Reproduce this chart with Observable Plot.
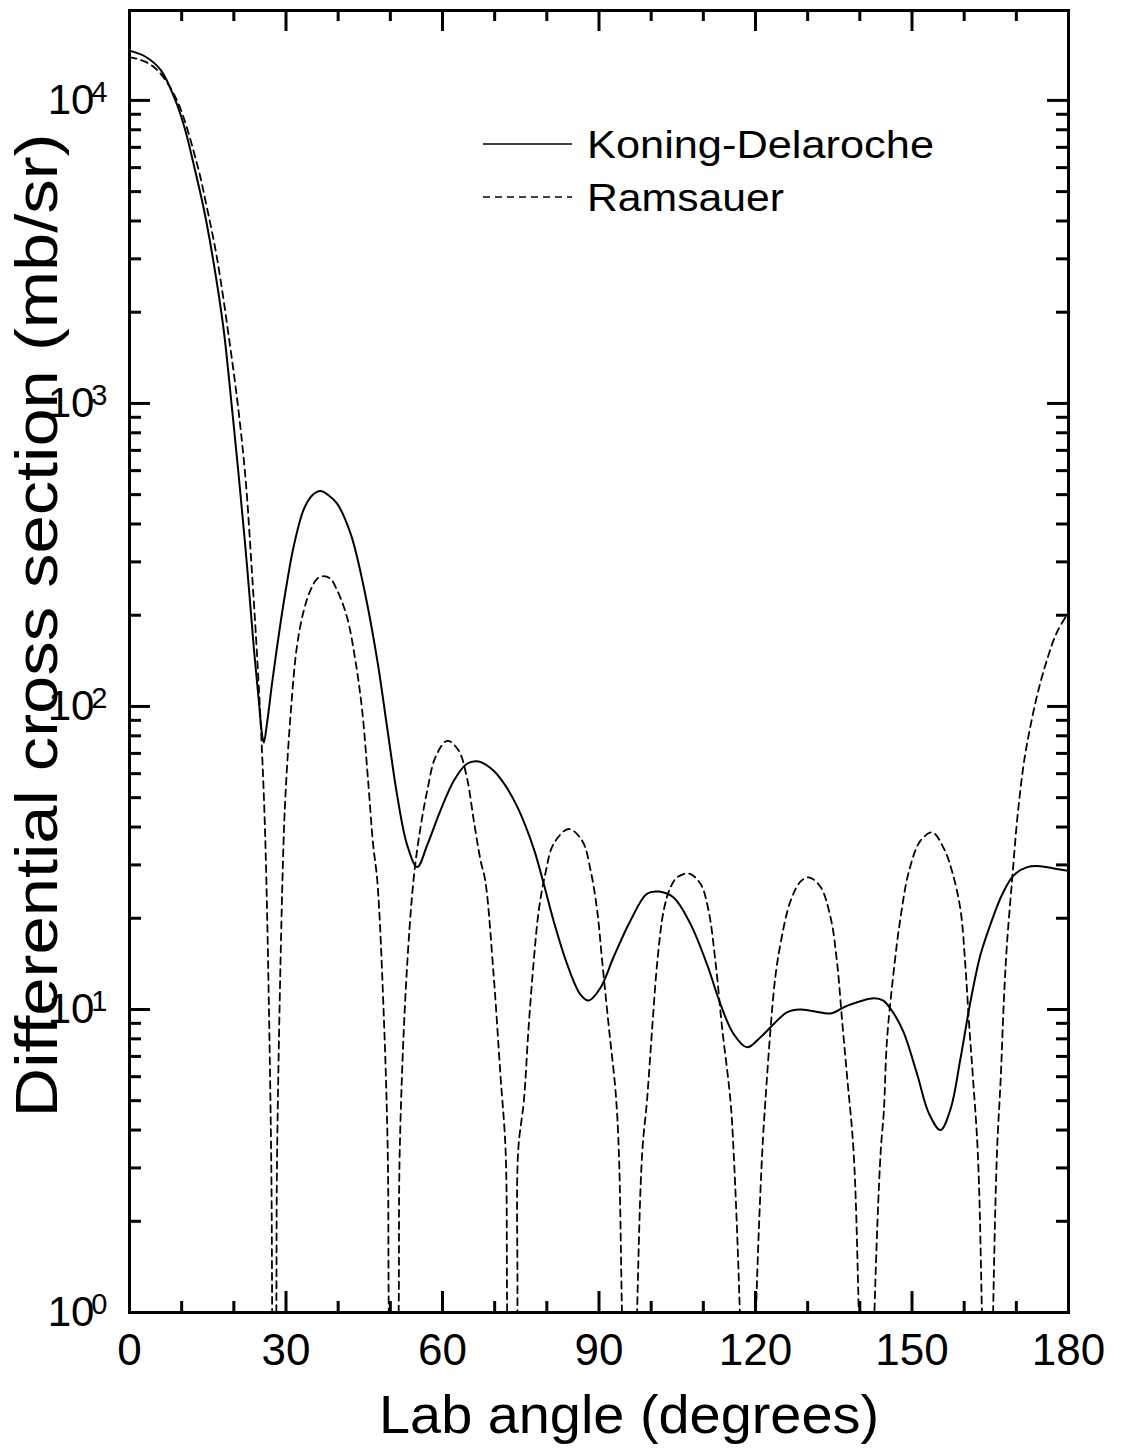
<!DOCTYPE html>
<html>
<head>
<meta charset="utf-8">
<script src="https://cdn.jsdelivr.net/npm/d3@7"></script>
<script src="https://cdn.jsdelivr.net/npm/@observablehq/plot@0.6"></script>
<style>
  body { margin: 0; background: #fff; }
  #chart { width: 1122px; height: 1454px; }
</style>
</head>
<body>
<div id="chart"></div>
<script>
// Elastic differential cross section vs. lab angle, two optical-model potentials
const seriesNames = ["Koning-Delaroche", "Ramsauer"];

// Koning-Delaroche potential (solid)
const angleKD = [0, 3.0, 6.0, 8.8, 10.6, 12.3, 14.25, 16.0, 18.0, 19.55, 21.0, 22.5, 23.87, 24.8, 25.4, 25.75, 26.4, 27.35, 28.9,
  30.2, 31.5, 33.4, 35.0, 36.6, 38.2, 39.8, 42.4, 44.9, 47.5, 49.4, 51.3, 53.2, 55.15, 57.1, 59.6, 62.2, 64.7, 66.95, 69.8, 72.0, 74.5,
  77.5, 79.4, 81.3, 83.9, 86.45, 88.05, 90.3, 92.8, 96.0, 99.2, 101.45, 104.3, 107.5, 110.7, 113.3, 115.8, 118.4, 120.95, 123.5, 126.1,
  128.5, 131.2, 134.4, 137.6, 142.7, 144.5, 146.5, 148.4, 151.0, 153.2, 155.45, 157.4, 159.3, 161.2, 163.1, 165.0, 167.3, 169.5,
  172.1, 174.6, 177.2, 180];
const sigmaKD = [14600, 13960, 12590, 10000, 8080, 6150, 4380, 3000, 1780, 1000, 562, 295, 153, 104, 81, 76, 89, 120, 186,
  257, 339, 447, 497, 514, 497, 467, 371, 248, 142, 85, 51, 35, 29.5, 35, 45.3, 57, 64.7, 65.8, 61.4, 55, 46,
  33.9, 26, 19.6, 14.1, 11.2, 10.7, 11.8, 14.9, 19.6, 24.1, 24.5, 23.4, 19.2, 14.1, 10.4, 8.3, 7.5, 8.1, 8.96, 9.8,
  10.0, 9.87, 9.7, 10.3, 10.9, 10.7, 9.7, 8.4, 6.1, 4.56, 4.0, 4.7, 6.9, 10.6, 15.1, 19.0, 24.0, 27.7,
  29.5, 29.7, 29.2, 28.7];

// Ramsauer potential (dashed); the deep minima fall below the 1 mb/sr floor
const angleRam = [0, 3.1, 5.6, 9.1, 12.97, 14.9, 16.8, 19.2, 20.95, 22.3, 23.4, 24.4, 25.4, 26.1, 27.15, 27.35, 27.75, 28.15, 28.3,
  29.4, 29.9, 30.9, 32.1, 33.4, 34.7, 36.0, 37.25, 38.5, 39.8, 41.7, 43.3, 44.6, 45.7, 46.7, 47.5, 48.7, 49.5, 49.7, 50.65, 51.6, 51.8,
  53.0, 54.5, 55.8, 57.1, 58.65, 60.9, 63.1, 64.7, 66.0, 67.3, 68.2, 69.8, 71.1, 72.1, 72.4, 73.4, 74.35, 74.5,
  75.6, 76.5, 77.5, 78.45, 79.7, 81.3, 84.2, 86.8, 88.4, 89.65, 90.6, 91.9, 93.2, 93.8, 94.4, 95.85, 97.3, 98.3,
  99.2, 100.2, 101.2, 102.4, 103.7, 105.0, 107.2, 109.45, 111.0, 112.3, 113.6, 115.2, 115.8, 117.0, 118.55, 120.1, 121.3,
  121.9, 122.9, 123.8, 124.8, 126.6, 128.6, 130.2, 132.45, 134.4, 135.65, 136.6, 137.6, 138.8, 139.8, 141.3, 142.8, 144.0,
  144.6, 145.2, 146.5, 147.8, 149.4, 151.6, 153.9, 156.1, 157.7, 159.3, 160.2, 160.9, 161.7, 162.6, 163.4, 164.5, 165.55, 166.3,
  167.0, 167.6, 168.2, 169.2, 170.2, 171.4, 172.4, 174.0, 175.9, 177.8, 180];
const sigmaRam = [13900, 13400, 12450, 10000, 6150, 4380, 3000, 1585, 930, 550, 290, 153, 71, 33, 3.4, 1, 0.05, 1, 3.4,
  30, 51, 95, 158, 207, 242, 264, 269, 264, 242, 197, 142, 97, 58, 35, 26.6, 10, 3.4, 1, 0.05, 1, 3.4,
  12, 27.3, 40, 53, 68, 77, 71.5, 58, 42, 31, 26.6, 13, 6.1, 3.4, 1, 0.05, 1, 3.4,
  5.0, 8.7, 14.5, 21.2, 28, 35.2, 39.4, 36, 28.7, 21.2, 14.5, 8.7, 5.3, 3.4, 1, 0.05, 1, 3.4,
  5.0, 8.7, 14.5, 21.2, 25.3, 27.3, 28.1, 26, 21.2, 14.5, 8.7, 5.0, 3.4, 1, 0.05, 1, 3.4,
  5.0, 8.7, 12.8, 16.5, 22.5, 26.4, 27.3, 25.4, 20.1, 14.2, 9.2, 5.9, 3.4, 1, 0.05, 1, 3.4,
  4.6, 7.9, 13.4, 20.1, 28.5, 36, 38.4, 34, 28.5, 21.3, 14.2, 9.2, 5.9, 3.4, 1, 0.05, 1, 3.4,
  5.9, 10.6, 16.4, 26.9, 42.9, 64.4, 81, 109, 143, 176, 204];

// Axis ticks
const xMajorTicks = [0, 30, 60, 90, 120, 150, 180];
const xMinorTicks = [10, 20, 40, 50, 70, 80, 100, 110, 130, 140, 160, 170];
const yMajorTicks = [1, 10, 100, 1000, 10000];
const yMinorTicks = [2, 3, 4, 5, 6, 7, 8, 9, 20, 30, 40, 50, 60, 70, 80, 90, 200, 300, 400, 500, 600, 700, 800, 900,
  2000, 3000, 4000, 5000, 6000, 7000, 8000, 9000];

const xTitle = "Lab angle (degrees)";
const yTitle = "Differential cross section (mb/sr)";

const kd = angleKD.map((a, i) => ({angle: a, sigma: sigmaKD[i]}));
const ram = angleRam.map((a, i) => ({angle: a, sigma: sigmaRam[i]}));

const W = 1122, H = 1454;
const mL = 129, mR = 54, mT = 10, mB = 142;
const FW = W - mL - mR, FH = H - mT - mB;
const font = "'Liberation Sans', Arial, Helvetica, sans-serif";

const chart = Plot.plot({
  width: W,
  height: H,
  marginLeft: mL,
  marginRight: mR,
  marginTop: mT,
  marginBottom: mB,
  style: {fontFamily: font, fontSize: "44px", color: "#000", background: "#fff", overflow: "visible"},
  x: {domain: [0, 180], axis: null},
  y: {type: "log", domain: [1, 19800], axis: null},
  marks: [
    Plot.line(ram, {x: "angle", y: "sigma", curve: "catmull-rom", stroke: "#000", strokeWidth: 1.8,
      strokeDasharray: "7,5", clip: true}),
    Plot.line(kd, {x: "angle", y: "sigma", curve: "catmull-rom", stroke: "#000", strokeWidth: 2, clip: true}),
    // inward ticks on all four sides
    Plot.tickX(xMajorTicks, {x: d => d, insetTop: FH - 21, strokeWidth: 3}),
    Plot.tickX(xMajorTicks, {x: d => d, insetBottom: FH - 21, strokeWidth: 3}),
    Plot.tickX(xMinorTicks, {x: d => d, insetTop: FH - 11, strokeWidth: 3}),
    Plot.tickX(xMinorTicks, {x: d => d, insetBottom: FH - 11, strokeWidth: 3}),
    Plot.tickY(yMajorTicks, {y: d => d, insetRight: FW - 21, strokeWidth: 3}),
    Plot.tickY(yMajorTicks, {y: d => d, insetLeft: FW - 21, strokeWidth: 3}),
    Plot.tickY(yMinorTicks, {y: d => d, insetRight: FW - 12, strokeWidth: 3}),
    Plot.tickY(yMinorTicks, {y: d => d, insetLeft: FW - 12, strokeWidth: 3}),
    Plot.frame({stroke: "#000", strokeWidth: 3}),
    Plot.axisX(xMajorTicks, {tickSize: 0, tickPadding: 21, fontSize: 44, label: null}),
    Plot.axisY(yMajorTicks, {tickSize: 0, tickPadding: 22, fontSize: 42, label: null,
      tickFormat: d => `10^${Math.round(Math.log10(d))}`}),
    Plot.text([xTitle], {frameAnchor: "bottom", dx: 30, dy: 103, fontSize: 54, lineAnchor: "middle",
      textAnchor: "middle", className: "x-title"}),
    Plot.text([yTitle], {frameAnchor: "left", rotate: -90, dx: -92, dy: -36, fontSize: 60,
      lineAnchor: "middle", textAnchor: "middle", className: "y-title"})
  ]
});

document.getElementById("chart").appendChild(chart);
const svg = d3.select(chart);

// powers of ten with superscript exponents
svg.selectAll('g[aria-label="y-axis tick label"] text').each(function () {
  const [base, exp] = this.textContent.split("^");
  const t = d3.select(this);
  t.text(base);
  t.append("tspan").attr("dx", "-3").attr("dy", "-12").attr("font-size", "29px").text(exp);
});

// axis titles set in a slightly wide face
svg.selectAll(".x-title text").attr("textLength", 500).attr("lengthAdjust", "spacingAndGlyphs");
svg.selectAll(".y-title text").attr("textLength", 984).attr("lengthAdjust", "spacingAndGlyphs");

// legend inside the frame
const legend = svg.append("g").attr("font-family", font).attr("font-size", "38px").attr("text-anchor", "start");
const rows = [{y: 144, dash: null, len: 347}, {y: 197, dash: "7,5", len: 197}];
rows.forEach((r, i) => {
  legend.append("line").attr("x1", 483).attr("x2", 572).attr("y1", r.y).attr("y2", r.y)
    .attr("stroke", "#000").attr("stroke-width", 1.5).attr("stroke-dasharray", r.dash);
  legend.append("text").attr("x", 587).attr("y", r.y + 14).attr("fill", "#000")
    .attr("textLength", r.len).attr("lengthAdjust", "spacingAndGlyphs").text(seriesNames[i]);
});
</script>
</body>
</html>
